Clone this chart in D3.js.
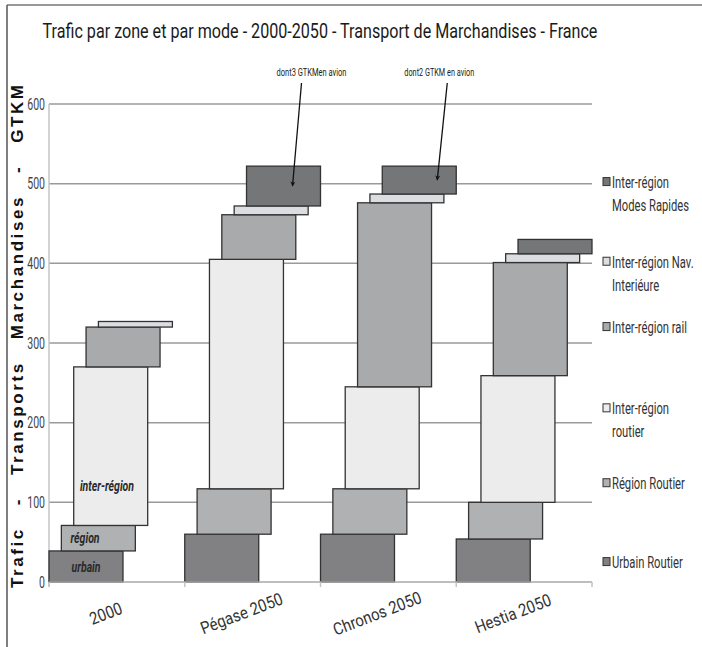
<!DOCTYPE html>
<html><head><meta charset="utf-8">
<script src="https://cdn.jsdelivr.net/npm/d3@7/dist/d3.min.js"></script>
<style>
body{margin:0;background:#fff;}
svg{display:block;}
.cond{font-family:"Roboto","Open Sans",sans-serif;}
</style></head>
<body><svg id="c" width="702" height="647"></svg>
<script>
const categories = ["2000","Pégase 2050","Chronos 2050","Hestia 2050"];
const urbainRoutier = [39,60,60,54];
const regionRoutier = [32,57,57,46];
const interRoutier = [199,288,128,159];
const interRail = [50,56,231,142];
const interNav = [7,11,11,11];
const interRapides = [0,50,35,18];
const seriesValues = [urbainRoutier,regionRoutier,interRoutier,interRail,interNav,interRapides];
const seriesColors = ["#818184","#b0b1b3","#ececec","#a9aaac","#dcdde0","#757678"];
const legendLines = [["Urbain Routier"],["Région Routier"],["Inter-région","routier"],["Inter-région rail"],["Inter-région Nav.","Interiéure"],["Inter-région","Modes Rapides"]];
const legendValues = [25,124,218,320,402,502];
const yTicks = [0,100,200,300,400,500,600];
const innerLabels = ["urbain","région","inter-région"];
const noteCats = ["Pégase 2050","Chronos 2050"];
const noteTexts = ["dont3 GTKMen avion","dont2 GTKM en avion"];
const titleText = "Trafic par zone et par mode - 2000-2050 - Transport de Marchandises - France";
const yTitle = "Trafic   -   Transports   Marchandises   -   GTKM";

const svg = d3.select("#c");
const x = d3.scaleBand().domain(categories).range([49,592]).padding(0);
const y = d3.scaleLinear().domain([0,600]).range([582,104]);
const bw = x.bandwidth();
const segW = bw*0.545;
const step = (bw-segW)/5;

function place(sel, X, Y, f, width, rot){
  sel.each(function(d,i){
    const w=this.getComputedTextLength();
    const k = width ? width/w : f;
    const px = typeof X==="function"?X(d,i):X, py = typeof Y==="function"?Y(d,i):Y;
    d3.select(this).attr("x",0).attr("y",0).attr("transform",`translate(${px},${py})${rot?` rotate(${rot})`:""} scale(${k},1)`);
  });
  return sel;
}

// frame
svg.append("line").attr("x1",7).attr("x2",702).attr("y1",5).attr("y2",5).attr("stroke","#777").attr("stroke-width",1.5);
svg.append("line").attr("x1",7).attr("x2",7).attr("y1",5).attr("y2",647).attr("stroke","#555").attr("stroke-width",1.5);

// title
place(svg.append("text").attr("class","cond").attr("text-anchor","middle")
  .attr("font-size",20).attr("fill","#1a1a1a").text(titleText), 320, 38, null, 555);

// gridlines
svg.append("g").selectAll("line").data(yTicks.filter(d=>d>0)).join("line")
  .attr("x1",49).attr("x2",592).attr("y1",d=>y(d)).attr("y2",d=>y(d))
  .attr("stroke","#9a9a9a").attr("stroke-width",1.5);
svg.append("line").attr("x1",49).attr("x2",49).attr("y1",y(600)).attr("y2",y(0)+5).attr("stroke","#c4c4c4").attr("stroke-width",1.5);
place(svg.append("g").selectAll("text").data(yTicks).join("text").attr("class","cond")
  .attr("dy","0.36em").attr("text-anchor","end")
  .attr("font-size",16).attr("fill","#444").text(d=>d), 45, d=>y(d), 0.66);

// bars
const stacked = categories.map((c,i)=>{let cum=0;return seriesValues.map((s,k)=>{const o={cat:c,k,y0:cum,y1:cum+s[i]};cum+=s[i];return o;});}).flat().filter(d=>d.y1>d.y0);
svg.append("g").selectAll("rect").data(stacked).join("rect")
  .attr("x",d=>x(d.cat)+d.k*step).attr("width",segW)
  .attr("y",d=>y(d.y1)).attr("height",d=>y(d.y0)-y(d.y1))
  .attr("fill",d=>seriesColors[d.k]).attr("stroke","#333").attr("stroke-width",1.3);

// x axis
svg.append("line").attr("x1",49).attr("x2",592).attr("y1",y(0)).attr("y2",y(0)).attr("stroke","#a8a8a8").attr("stroke-width",1.5);
svg.append("g").selectAll("line").data(categories.map(c=>x(c)).concat([592])).join("line")
  .attr("x1",d=>d).attr("x2",d=>d).attr("y1",y(0)).attr("y2",y(0)+5).attr("stroke","#c4c4c4").attr("stroke-width",1.5);
place(svg.append("g").selectAll("text").data(categories).join("text").attr("class","cond")
  .attr("text-anchor","middle").attr("font-size",17).attr("fill","#333").text(d=>d),
  d=>x(d)+bw/2-9, y(0)+37, 0.88, null, -21);

// inner labels (first category)
const c0 = stacked.filter(d=>d.cat===categories[0]);
const innerX = [0.5,0.32,0.45];
place(svg.append("g").selectAll("text").data(innerLabels).join("text").attr("class","cond")
  .attr("dy","0.35em").attr("text-anchor","middle")
  .attr("font-size",15).attr("font-style","italic").attr("font-weight","bold").attr("fill","#2a2a2a")
  .text(d=>d),
  (d,i)=>x(categories[0])+i*step+segW*innerX[i],
  (d,i)=>i===2 ? y(121) : y((c0[i].y0+c0[i].y1)/2), 0.7);

// annotations
svg.append("defs").append("marker").attr("id","ah").attr("viewBox","0 0 10 10").attr("refX",9).attr("refY",5)
  .attr("markerWidth",12).attr("markerHeight",5).attr("orient","auto").attr("markerUnits","userSpaceOnUse")
  .append("path").attr("d","M0,0 L10,5 L0,10 L3,5 z").attr("fill","#111");
const noteLayout = [{tx:65,sx:55,ex:46},{tx:57,sx:65,ex:55}];
noteCats.forEach((cat,n)=>{
  const i = categories.indexOf(cat);
  const top = seriesValues.reduce((a,s)=>a+s[i],0);
  const base = top - interRapides[i];
  const bx = x(cat)+5*step;
  const L = noteLayout[n];
  place(svg.append("text").attr("class","cond").attr("text-anchor","middle")
    .attr("font-size",11).attr("fill","#222").text(noteTexts[n]), bx+L.tx, 76, null, 70);
  svg.append("line").attr("x1",bx+L.sx).attr("y1",83).attr("x2",bx+L.ex).attr("y2",y((top+base)/2))
    .attr("stroke","#111").attr("stroke-width",1.3).attr("marker-end","url(#ah)");
});

// y title
svg.append("text").attr("transform",`translate(23,${(y(0)+6+y(600)-19)/2}) rotate(-90)`)
  .attr("text-anchor","middle").attr("font-family","'Liberation Sans',Arial,sans-serif").attr("font-weight","bold")
  .attr("font-size",17).attr("fill","#111").attr("textLength",503).attr("lengthAdjust","spacing")
  .style("white-space","pre").text(yTitle);

// legend
const lg = svg.append("g");
legendLines.forEach((lines,k)=>{
  const yy = y(legendValues[k]);
  lg.append("rect").attr("x",603).attr("y",yy-4.5).attr("width",7).attr("height",8)
    .attr("fill",seriesColors[k]).attr("stroke","#333").attr("stroke-width",1);
  lines.forEach((l,j)=>{
    place(lg.append("text").attr("class","cond").attr("dy","0.36em")
      .attr("font-size",17).attr("fill","#333").text(l), 612, yy+j*23, 0.66);
  });
});
</script></body></html>
